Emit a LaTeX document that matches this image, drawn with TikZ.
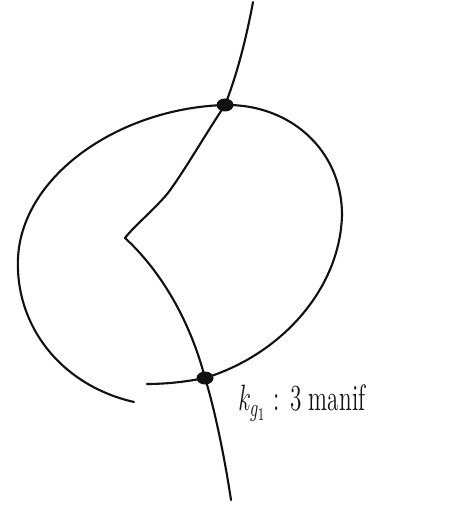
\documentclass[tikz,border=0pt]{standalone}
\usetikzlibrary{calc}

\begin{document}
\begin{tikzpicture}[x=0.02cm, y=-0.02cm, line width=1.2pt, line cap=round]
    % Define colours
    \definecolor{inkColour}{HTML}{111111}

    % Fix picture size
    \useasboundingbox (0,0) rectangle (473,506);

    % Define coordinates for the curve and the marked points
    \coordinate (top) at (253,2);
    \coordinate (P) at (225,105);
    \coordinate (kink) at (125,238);
    \coordinate (Q) at (205,378);
    \coordinate (bottom) at (231,500);
    \coordinate (leftEnd) at (134,402);
    \coordinate (innerEnd) at (147,384);

    % Draw the vertical curve
    \draw[inkColour] (top) .. controls (245,45) and (235,80) .. (P)
        .. controls (205,135) and (185,170) .. (168,193)
        .. controls (152,212) and (135,225) .. (kink);
    \draw[inkColour] (kink) .. controls (160,270) and (190,320) .. (Q)
        .. controls (215,410) and (225,460) .. (bottom);

    % Draw the loop
    \draw[inkColour] (leftEnd) .. controls (60,385) and (15,325) .. (18,258)
        .. controls (22,175) and (120,108) .. (P)
        .. controls (290,104) and (342,150) .. (342,215)
        .. controls (340,290) and (280,355) .. (Q)
        .. controls (185,382) and (165,384) .. (innerEnd);

    % Mark the points
    \fill[inkColour] (P) ellipse (8.5 and 6.5);
    \fill[inkColour] (Q) ellipse (8.5 and 6.5);

    % Label
    \node[inkColour, anchor=west, font=\Large, xscale=0.92, yscale=1.45] (label) at (232,403) {$k_{g_1}$ : 3 manif};
\end{tikzpicture}
\end{document}
